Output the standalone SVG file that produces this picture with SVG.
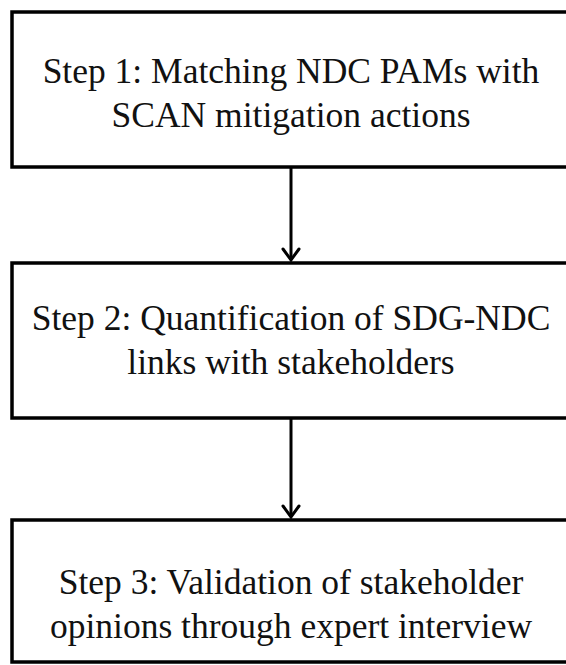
<svg xmlns="http://www.w3.org/2000/svg" width="566" height="665" viewBox="0 0 566 665">
<defs>
<style>
.box{fill:#fff;stroke:#000;stroke-width:3.5}
.lbl{font-family:"Liberation Serif","Times New Roman",serif;font-size:35.5px;fill:#111;text-anchor:middle}
.conn{stroke:#000;stroke-width:3;fill:none}
.head{stroke:#000;stroke-width:3;fill:none;stroke-linecap:round;stroke-linejoin:miter}
</style>
</defs>
<rect width="566" height="665" fill="#fff"/>
<g id="step1">
<rect class="box" x="12" y="12" width="560" height="155"/>
<text class="lbl" x="291" y="83">Step 1: Matching NDC PAMs with</text>
<text class="lbl" x="291" y="127">SCAN mitigation actions</text>
</g>
<g id="step2">
<rect class="box" x="12" y="263" width="560" height="155"/>
<text class="lbl" x="291" y="330">Step 2: Quantification of SDG-NDC</text>
<text class="lbl" x="291" y="374">links with stakeholders</text>
</g>
<g id="step3">
<rect class="box" x="12" y="520" width="560" height="142"/>
<text class="lbl" x="291" y="594">Step 3: Validation of stakeholder</text>
<text class="lbl" x="291" y="638">opinions through expert interview</text>
</g>
<g id="connectors">
<line class="conn" x1="291" y1="167" x2="291" y2="260"/>
<polyline class="head" points="283,249 291,260 299,249"/>
<line class="conn" x1="291" y1="418" x2="291" y2="517"/>
<polyline class="head" points="283,506 291,517 299,506"/>
</g>
</svg>
